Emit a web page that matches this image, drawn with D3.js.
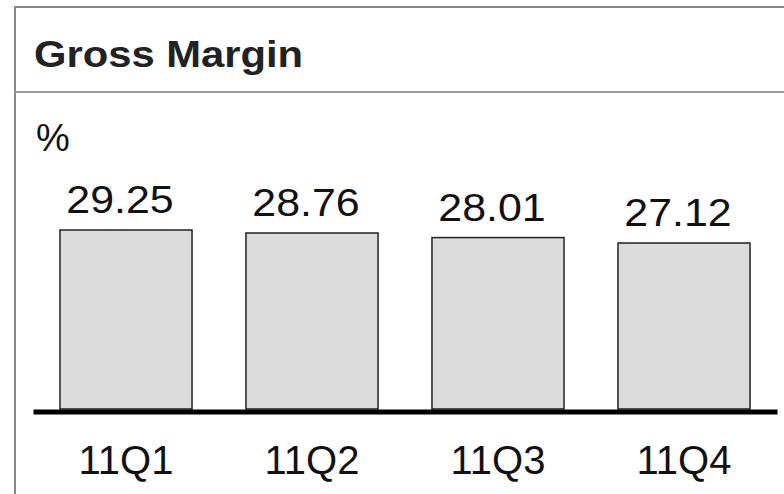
<!DOCTYPE html>
<html>
<head>
<meta charset="utf-8">
<script src="https://cdn.jsdelivr.net/npm/d3@7"></script>
<style>
  html, body { margin: 0; padding: 0; background: #fff; }
  svg { display: block; font-family: "Liberation Sans", Arial, Helvetica, sans-serif; }
</style>
</head>
<body>
<svg id="chart" width="784" height="494"></svg>
<script>
const title = "Gross Margin";
const unitLabel = "%";
const categories = ["11Q1", "11Q2", "11Q3", "11Q4"];
const values = [29.25, 28.76, 28.01, 27.12];
const valueLabels = ["29.25", "28.76", "28.01", "27.12"];

const svg = d3.select("#chart");
const W = 784, H = 494;

// frame
svg.append("rect").attr("x", 15).attr("y", 7).attr("width", 820).attr("height", 520)
  .attr("fill", "#fff").attr("stroke", "#878787").attr("stroke-width", 2);
svg.append("line").attr("x1", 15).attr("x2", W).attr("y1", 92).attr("y2", 92)
  .attr("stroke", "#9a9a9a").attr("stroke-width", 2);

svg.append("text").attr("transform", "translate(34,67) scale(1.16,1)")
  .attr("font-size", 36).attr("font-weight", "bold")
  .attr("fill", "#222").text(title);
svg.append("text").attr("x", 36).attr("y", 151).attr("font-size", 38).attr("fill", "#111").text(unitLabel);

const x = d3.scaleBand().domain(categories).range([33, 777]).paddingInner(0.29).paddingOuter(0.145);
const y = d3.scaleLinear().domain([0, 29.25]).range([409, 230]);

const g = svg.append("g");
g.selectAll("rect.bar").data(values).join("rect").attr("class", "bar")
  .attr("x", (d, i) => x(categories[i]))
  .attr("y", d => y(d))
  .attr("width", x.bandwidth())
  .attr("height", d => y(0) - y(d))
  .attr("fill", "#dcdcdc").attr("stroke", "#222").attr("stroke-width", 1.5);

g.selectAll("text.val").data(values).join("text").attr("class", "val")
  .attr("transform", (d, i) => `translate(${x(categories[i]) + x.bandwidth() / 2 - 6}, ${y(d) - 17}) scale(1.1,1)`)
  .attr("text-anchor", "middle").attr("font-size", 39).attr("fill", "#111")
  .text((d, i) => valueLabels[i]);

// baseline axis
const axis = d3.axisBottom(x).tickSize(0).tickPadding(0);
const ag = svg.append("g").attr("transform", `translate(0, ${y(0) + 2.5})`).call(axis);
ag.select(".domain").attr("stroke", "#000").attr("stroke-width", 5);
ag.selectAll("text").attr("font-size", 40).attr("fill", "#111")
  .attr("font-family", "'Liberation Sans', Arial, sans-serif")
  .attr("dy", null).attr("y", 62);
</script>
</body>
</html>
